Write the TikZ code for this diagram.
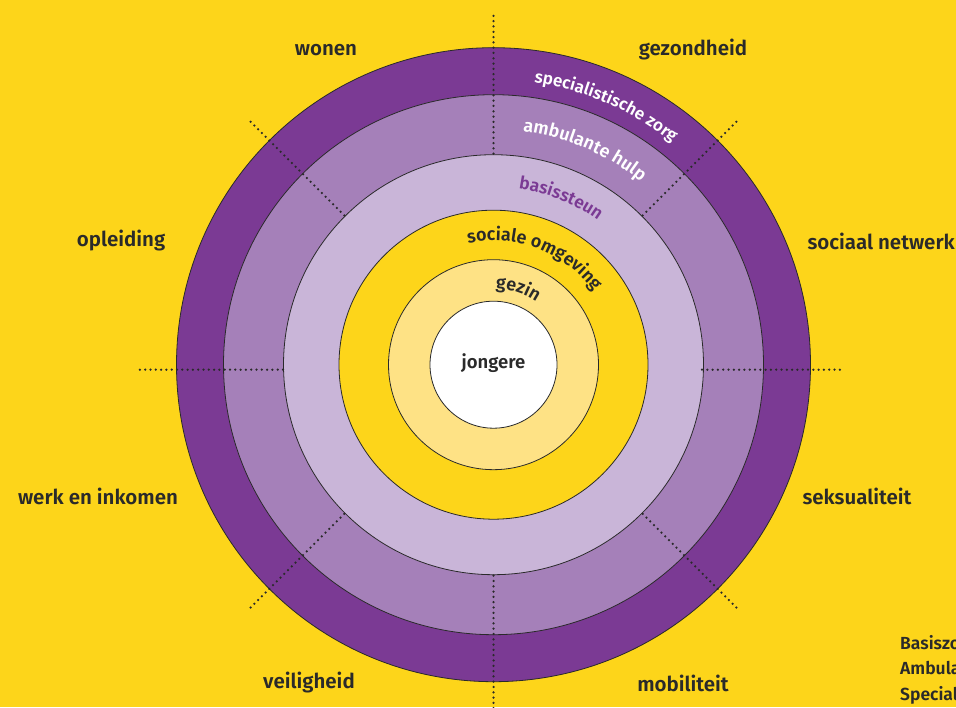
\documentclass[tikz,border=0pt]{standalone}
\usepackage{fontspec}
\setmainfont{Fira Sans}[BoldFont={Fira Sans SemiBold}]
\usepackage{tikz}
\usetikzlibrary{calc, decorations.text}

\definecolor{geel}{HTML}{FDD51A}
\definecolor{lichtgeel}{HTML}{FEE285}
\definecolor{paars}{HTML}{7B3A94}
\definecolor{middenpaars}{HTML}{A580B9}
\definecolor{lichtpaars}{HTML}{C9B5D8}
\definecolor{tekst}{HTML}{2A2A2A}
\newcommand{\boogfont}[1]{\fontsize{#1}{#1}\selectfont\bfseries}

\begin{document}
\begin{tikzpicture}[x=1pt, y=1pt,
    ring/.style={draw=tekst, line width=0.8pt},
    stippel/.style={tekst, line width=2.5pt, line cap=round, dash pattern=on 0pt off 5.3pt},
    label/.style={text=tekst, font=\fontsize{20.5}{24}\selectfont\bfseries},
    legenda/.style={text=tekst, font=\fontsize{17.5}{25.5}\selectfont\bfseries, align=left},
    boog/.style={decorate, decoration={text along path, text align=center, text={#1}}}]
    \useasboundingbox (0,0) rectangle (956,707);
    \clip (0,0) rectangle (956,707);
    \fill[geel] (0,0) rectangle (956,707);
    \coordinate (c) at (493.5,342.3);

    \draw[ring, fill=paars] (c) circle[radius=317];
    \draw[ring, fill=middenpaars] (c) circle[radius=270];
    \draw[ring, fill=lichtpaars] (c) circle[radius=210];
    \draw[ring, fill=geel] (c) circle[radius=154.5];
    \draw[ring, fill=lichtgeel] (c) circle[radius=105];
    \draw[ring, fill=white] (c) circle[radius=63.5];

    \foreach \a/\r in {90/350, 45/345, 135/345, 225/345, 270/360, 315/345} {
      \draw[stippel] ($(c)+(\a:211)$) -- ($(c)+(\a:\r)$);
    }
    \draw[stippel] ($(c)+(-210.5,-5)$) -- ($(c)+(-356.5,-5)$);
    \draw[stippel] ($(c)+(208.5,-5)$) -- ($(c)+(346.5,-5)$);

    \path[boog={|\boogfont{17}\color{white}|specialistische zorg}] ($(c)+(106.5:285)$) arc[start angle=106.5, end angle=26.5, radius=285];
    \path[boog={|\boogfont{18}\color{white}|ambulante hulp}] ($(c)+(107:235)$) arc[start angle=107, end angle=27, radius=235];
    \path[boog={|\boogfont{17.5}\color{paars}|basissteun}] ($(c)+(108:178)$) arc[start angle=108, end angle=28, radius=178];
    \path[boog={|\boogfont{18}\color{tekst}|sociale omgeving}] ($(c)+(119:124)$) arc[start angle=119, end angle=19, radius=124];
    \path[boog={|\boogfont{18}\color{tekst}|gezin}] ($(c)+(122:76)$) arc[start angle=122, end angle=22, radius=76];

    \node[label, font=\fontsize{18.5}{22}\selectfont\bfseries] (jongere) at ($(c)+(0,2)$) {jongere};

    \node[label] (wonen) at (326,657) {wonen};
    \node[label] (gezondheid) at (693,657) {gezondheid};
    \node[label] (opleiding) at (121,466) {opleiding};
    \node[label, anchor=west] (netwerk) at (804,466) {sociaal netwerk};
    \node[label] (werk) at (98,211) {werk en inkomen};
    \node[label] (seksualiteit) at (857,211) {seksualiteit};
    \node[label] (veiligheid) at (309,24) {veiligheid};
    \node[label] (mobiliteit) at (683,24) {mobiliteit};
    \node[legenda, anchor=north west, inner sep=0pt] (legenda) at (900,72) {Basiszorg\\Ambulante hulp\\Specialistische zorg};
\end{tikzpicture}
\end{document}
